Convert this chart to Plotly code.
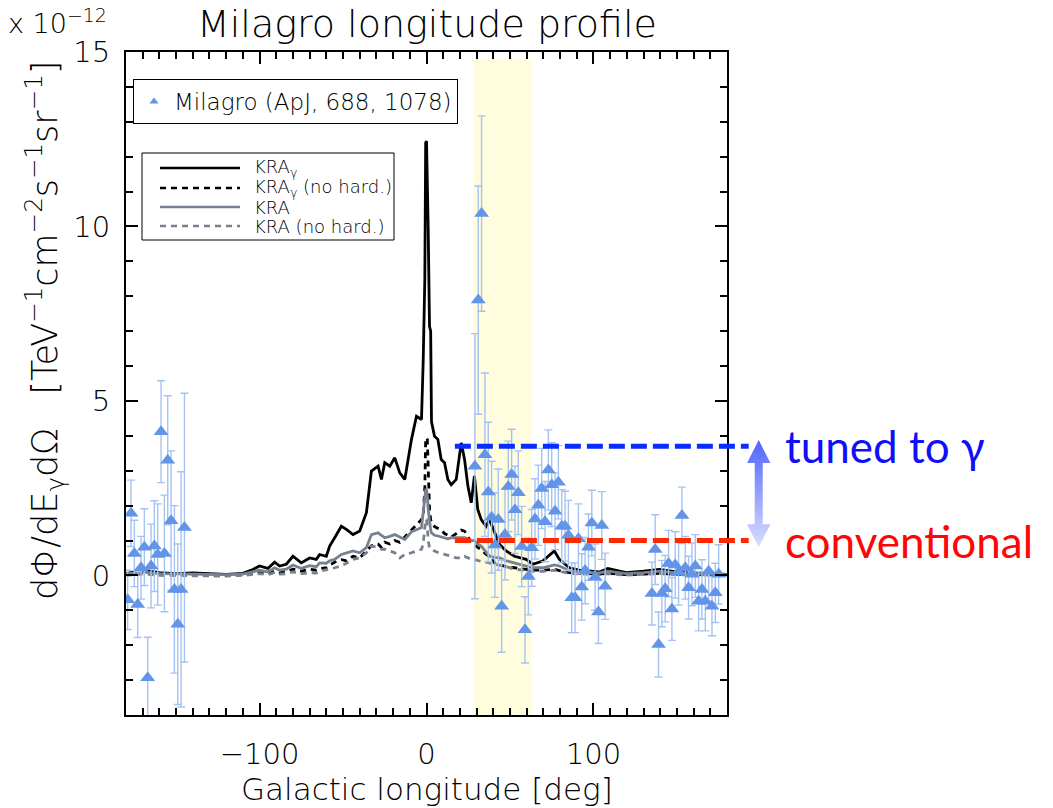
import plotly.graph_objects as go

# ---------------- data ----------------
# model longitude grid [deg]
lon_model = [-180, -170, -160, -150, -140, -130, -120, -110, -104, -100,
             -95, -91, -88, -84, -80, -75, -70, -66, -64, -60,
             -58, -55, -51, -48, -44, -40, -36, -33, -29, -27,
             -25, -22, -19, -16, -13, -9, -6, -3, -2, -1,
             -0.5, 0, 0.5, 1, 1.8, 2.5, 3, 4.8, 6.8, 8.8,
             10.8, 12.8, 14.8, 17.8, 20.8, 22.8, 24.8, 26.8, 28.7, 30.7,
             32.8, 35.7, 37.7, 40.7, 43.7, 47.7, 52.7, 59.7, 63.7, 69.6,
             76.6, 79.6, 85.6, 91.6, 103.6, 108.6, 119.6, 130, 139.5, 150,
             160, 170, 180]

# model fluxes, units of 1e-12 TeV^-1 cm^-2 s^-1 sr^-1
kra_gamma = [0.05, 0.15, 0.08, 0.05, 0.07, 0.04, 0.03, 0.06, 0.17, 0.27,
             0.20, 0.38, 0.27, 0.32, 0.55, 0.36, 0.50, 0.46, 0.60, 0.55,
             0.84, 1.08, 1.41, 1.32, 1.17, 1.27, 1.80, 2.99, 3.13, 2.75,
             3.23, 3.13, 3.37, 2.94, 2.75, 3.90, 4.56, 4.47, 6.10, 8.50,
             12.40, 12.45, 11.50, 10.00, 7.14, 7.00, 4.40, 3.99, 3.90, 3.32,
             3.23, 2.75, 2.60, 2.75, 3.80, 3.32, 2.56, 2.08, 2.85, 1.89,
             1.60, 1.41, 1.60, 1.22, 0.89, 0.70, 0.55, 0.46, 0.32, 0.41,
             0.70, 0.46, 0.22, 0.15, 0.10, 0.20, 0.08, 0.12, 0.17, 0.10,
             0.06, 0.05, 0.03]

kra_gamma_nohard = [0.02, 0.08, 0.03, 0.02, 0.03, 0.01, 0.00, 0.02, 0.05, 0.08,
                    0.05, 0.12, 0.08, 0.10, 0.18, 0.12, 0.18, 0.15, 0.20, 0.22,
                    0.30, 0.38, 0.45, 0.42, 0.55, 0.50, 0.70, 0.85, 0.90, 0.80,
                    0.95, 0.90, 1.00, 0.95, 1.10, 1.30, 1.46, 1.60, 1.70, 2.50,
                    3.90, 3.95, 3.90, 3.00, 1.90, 1.60, 1.50, 1.40, 1.35, 1.30,
                    1.20, 1.15, 1.10, 1.20, 1.30, 1.27, 1.10, 0.95, 0.90, 0.80,
                    0.74, 0.60, 0.55, 0.36, 0.30, 0.25, 0.22, 0.18, 0.15, 0.15,
                    0.18, 0.14, 0.08, 0.06, 0.04, 0.06, 0.02, 0.04, 0.06, 0.03,
                    0.02, 0.02, 0.01]

kra = [0.04, 0.10, 0.05, 0.04, 0.05, 0.03, 0.02, 0.04, 0.10, 0.15,
       0.10, 0.22, 0.15, 0.18, 0.30, 0.20, 0.28, 0.25, 0.36, 0.35,
       0.42, 0.46, 0.60, 0.65, 0.70, 0.65, 0.80, 1.17, 1.22, 1.15,
       1.08, 1.12, 1.17, 1.10, 1.03, 1.25, 1.32, 1.37, 1.80, 2.20,
       2.45, 2.45, 2.30, 1.90, 1.50, 1.30, 1.22, 1.15, 1.13, 1.10,
       1.08, 1.05, 1.08, 1.08, 1.10, 1.08, 1.05, 1.00, 1.00, 0.90,
       0.84, 0.65, 0.55, 0.52, 0.50, 0.42, 0.36, 0.28, 0.22, 0.22,
       0.30, 0.27, 0.14, 0.10, 0.07, 0.12, 0.05, 0.08, 0.12, 0.07,
       0.04, 0.04, 0.02]

kra_nohard = [0.00, 0.04, 0.00, -0.01, 0.00, -0.01, -0.02, 0.00, 0.03, 0.05,
              0.02, 0.08, 0.04, 0.05, 0.10, 0.05, 0.08, 0.07, 0.12, 0.15,
              0.18, 0.22, 0.27, 0.35, 0.46, 0.50, 0.65, 0.84, 0.80, 0.75,
              0.75, 0.70, 0.65, 0.50, 0.60, 0.65, 0.70, 0.75, 0.90, 1.30,
              1.60, 1.60, 1.40, 1.00, 0.80, 0.75, 0.75, 0.70, 0.65, 0.62,
              0.60, 0.58, 0.55, 0.50, 0.50, 0.55, 0.50, 0.48, 0.45, 0.42,
              0.40, 0.38, 0.36, 0.33, 0.30, 0.25, 0.18, 0.15, 0.12, 0.12,
              0.15, 0.12, 0.06, 0.04, 0.03, 0.05, 0.01, 0.03, 0.05, 0.02,
              0.01, 0.01, 0.00]

# Milagro measurements (ApJ 688, 1078)
lon_mil = [-179, -177, -175, -173, -171, -169, -167, -165, -163, -161,
           -159, -157, -155, -153, -151, -149, -147, -145,
           29, 31, 33, 35, 37, 39, 41, 43, 45, 47,
           49, 51, 53, 55, 57, 59, 61, 63, 65, 67,
           69, 71, 73, 75, 77, 79, 81, 83, 85, 87,
           89, 91, 93, 95, 97, 99, 101, 103, 105, 107,
           135, 137, 139, 141, 143, 145, 147, 149, 151, 153,
           155, 157, 159, 161, 163, 165, 167, 169, 171, 173, 175]
flux_mil = [-0.70, 1.78, 0.63, -0.83, 0.22, 0.81, -2.93, 0.27, 0.84, 0.60,
            4.12, 0.63, 3.30, 1.57, -0.40, -1.40, -0.40, 1.37,
            3.13, 7.89, 10.37, 3.46, 2.39, 1.67, 0.87, 1.60, -0.88, 1.17,
            2.55, 2.89, 1.88, 2.37, 0.83, -1.56, -0.03, 0.79, 1.62, 2.01,
            2.49, 1.54, 3.02, 2.60, 1.84, 2.67, 1.41, 1.41, 1.15, -0.64,
            -0.64, 1.05, -0.33, 0.14, 0.81, 1.50, -0.05, -1.05, 1.43, -0.31,
            -0.52, 0.74, -1.98, -0.52, -0.38, 0.34, -0.96, 0.30, 0.10, 1.72,
            0.22, -0.35, 0.03, 0.27, -0.74, -0.40, -0.74, 0.12, -0.88, -0.50, 0.03]
err_mil = [0.85, 0.95, 0.95, 0.95, 0.90, 1.10, 1.16, 1.20, 1.30, 1.45,
           1.46, 1.67, 1.85, 2.00, 2.40, 2.30, 3.37, 3.85,
           3.80, 3.27, 2.80, 2.34, 2.00, 1.60, 1.50, 1.45, 1.32, 1.30,
           1.30, 1.30, 1.25, 1.20, 1.15, 0.95, 1.10, 1.10, 1.15, 1.15,
           1.15, 1.15, 1.15, 1.20, 1.10, 1.05, 1.05, 1.00, 1.00, 1.00,
           1.00, 1.00, 0.95, 0.95, 0.95, 0.94, 0.95, 0.90, 0.97, 0.95,
           0.90, 1.00, 0.93, 0.95, 0.95, 0.95, 0.90, 0.95, 0.95, 0.81,
           0.90, 0.90, 0.90, 0.90, 0.85, 0.85, 0.85, 0.85, 0.85, 0.85, 0.85]

# Cygnus region shading [deg]
band_lon = [28, 63]
# reference flux levels
level_tuned = 3.7
level_conv = 1.0
level_start = 17  # longitude where the level markers begin

# ---------------- geometry / style ----------------
W, H = 1053, 808
BOX_L, BOX_R, BOX_T, BOX_B = 126, 727, 52, 715
X_RANGE = [-180, 180]
Y_RANGE = [-4, 15]
deg_per_px = (X_RANGE[1] - X_RANGE[0]) / (BOX_R - BOX_L)
x_ext_max = X_RANGE[0] + (W - BOX_L) * deg_per_px

FONT = "DejaVu Sans"
THIN = 200
MIL_BLUE = "rgb(98,148,232)"
ERR_BLUE = "rgb(165,195,242)"
KRA_GRAY = "rgb(118,128,142)"
DASH = "6px,5px"

xdom = [BOX_L / W, BOX_R / W]
ydom = [1 - BOX_B / H, 1 - BOX_T / H]

model_styles = [
    (kra_gamma, "KRA<sub>γ</sub>", "black", "solid"),
    (kra_gamma_nohard, "KRA<sub>γ</sub> (no hard.)", "black", DASH),
    (kra, "KRA", KRA_GRAY, "solid"),
    (kra_nohard, "KRA (no hard.)", KRA_GRAY, DASH),
]

fig = go.Figure()

# model curves
for yv, name, color, dash in model_styles:
    fig.add_trace(go.Scatter(
        x=lon_model, y=yv, mode="lines", name=name, showlegend=False,
        line=dict(color=color, width=2.8, dash=dash), xaxis="x", yaxis="y"))

# Milagro points
fig.add_trace(go.Scatter(
    x=lon_mil, y=flux_mil, mode="markers", showlegend=False,
    marker=dict(symbol="triangle-up", size=13, color=MIL_BLUE, line=dict(width=0)),
    error_y=dict(type="data", array=err_mil, color=ERR_BLUE, thickness=1.4, width=4),
    xaxis="x", yaxis="y"))
fig.add_trace(go.Scatter(
    x=[None], y=[None], mode="markers", name="Milagro (ApJ, 688, 1078)",
    marker=dict(symbol="triangle-up", size=8, color=MIL_BLUE),
    xaxis="x", yaxis="y"))

# empty traces that carry the minor-tick axes
fig.add_trace(go.Scatter(x=[None], y=[None], showlegend=False, xaxis="x3", yaxis="y"))
fig.add_trace(go.Scatter(x=[None], y=[None], showlegend=False, xaxis="x", yaxis="y3"))

# level markers and double arrow on an extended longitude axis
arrow_x = 199
head_w, shaft_w, head_len = 7.0, 2.4, 0.66
tip_top = level_tuned + 0.18
tip_bot = level_conv - 0.19
fig.add_trace(go.Scatter(
    x=[level_start, 193], y=[level_tuned, level_tuned], mode="lines",
    line=dict(color="rgb(10,45,255)", width=5, dash="16px,6px"),
    showlegend=False, xaxis="x2", yaxis="y2"))
fig.add_trace(go.Scatter(
    x=[level_start, 193], y=[level_conv, level_conv], mode="lines",
    line=dict(color="rgb(255,40,0)", width=5, dash="16px,6px"),
    showlegend=False, xaxis="x2", yaxis="y2"))
ax = [arrow_x, arrow_x + head_w, arrow_x + shaft_w, arrow_x + shaft_w, arrow_x + head_w,
      arrow_x, arrow_x - head_w, arrow_x - shaft_w, arrow_x - shaft_w, arrow_x - head_w, arrow_x]
ay = [tip_top, tip_top - head_len, tip_top - head_len, tip_bot + head_len, tip_bot + head_len,
      tip_bot, tip_bot + head_len, tip_bot + head_len, tip_top - head_len, tip_top - head_len, tip_top]
fig.add_trace(go.Scatter(
    x=ax, y=ay, mode="lines", fill="toself", line=dict(width=0),
    fillgradient=dict(type="vertical", start=tip_bot, stop=tip_top,
                      colorscale=[[0, "rgb(218,222,255)"], [1, "rgb(80,100,250)"]]),
    showlegend=False, xaxis="x2", yaxis="y2"))

axis_common = dict(
    showline=True, linewidth=2, linecolor="black", mirror="ticks",
    ticks="inside", ticklen=12, tickwidth=1.6, tickcolor="black",
    showgrid=False, zeroline=False, automargin=False,
    tickfont=dict(family=FONT, size=29, color="black", weight=THIN),
)
minor_ticks = dict(ticks="inside", ticklen=7, tickwidth=1.6, tickcolor="black", showgrid=False)
minor_axis = dict(
    showline=True, linewidth=2, linecolor="black", mirror="ticks",
    ticks="inside", ticklen=7, tickwidth=1.6, tickcolor="black",
    showgrid=False, zeroline=False, automargin=False, showticklabels=False,
)

# boxed key for the model curves (drawn in paper units)
key_box = dict(x0=142, x1=394, y0=153, y1=240)
key_rows = [168, 188, 207, 226]
key_line = (160, 240)
key_text_x = 252

shapes = [dict(type="rect", xref="x", yref="y", x0=band_lon[0], x1=band_lon[1],
               y0=Y_RANGE[0], y1=14.8, fillcolor="rgb(255,253,222)",
               line=dict(width=0), layer="below"),
          dict(type="rect", xref="paper", yref="paper",
               x0=key_box["x0"] / W, x1=key_box["x1"] / W,
               y0=1 - key_box["y1"] / H, y1=1 - key_box["y0"] / H,
               fillcolor="white", line=dict(color="black", width=1), layer="above")]
annotations = []
for (yv, name, color, dash), row in zip(model_styles, key_rows):
    shapes.append(dict(type="line", xref="paper", yref="paper",
                       x0=key_line[0] / W, x1=key_line[1] / W,
                       y0=1 - row / H, y1=1 - row / H,
                       line=dict(color=color, width=2.6, dash=dash), layer="above"))
    annotations.append(dict(text=name, xref="paper", yref="paper",
                            x=key_text_x / W, y=1 - row / H, xanchor="left", yanchor="middle",
                            showarrow=False, font=dict(family=FONT, size=18, weight=THIN)))

annotations += [
    dict(text="Milagro longitude profile", xref="paper", yref="paper",
         x=(BOX_L + BOX_R) / 2 / W, y=1 - 24 / H, xanchor="center", yanchor="middle",
         showarrow=False, font=dict(family=FONT, size=38, weight=THIN)),
    dict(text="x 10<sup>−12</sup>", xref="paper", yref="paper",
         x=109 / W, y=1 - 21 / H, xanchor="right", yanchor="middle",
         showarrow=False, font=dict(family=FONT, size=27, weight=THIN)),
    dict(text="dΦ/dE<sub>γ</sub>dΩ   [TeV<sup>−1</sup>cm<sup>−2</sup>s<sup>−1</sup>sr<sup>−1</sup>]",
         xref="paper", yref="paper", x=45 / W, y=1 - 330 / H, textangle=-90,
         xanchor="center", yanchor="middle", showarrow=False,
         font=dict(family=FONT, size=35, weight=THIN)),
    dict(text="Galactic longitude [deg]", xref="paper", yref="paper",
         x=(BOX_L + BOX_R) / 2 / W, y=1 - 789 / H, xanchor="center", yanchor="middle",
         showarrow=False, font=dict(family=FONT, size=31, weight=THIN)),
    dict(text="tuned to γ", xref="x2", yref="y2", x=213.5, y=level_tuned,
         xanchor="left", yanchor="middle", showarrow=False,
         font=dict(family="Lato", size=44, color="rgb(15,15,250)", weight=400)),
    dict(text="conventional", xref="x2", yref="y2", x=213.5, y=level_conv,
         xanchor="left", yanchor="middle", showarrow=False,
         font=dict(family="Lato", size=44, color="rgb(255,5,5)", weight=400)),
]

fig.update_layout(
    width=W, height=H, autosize=False,
    margin=dict(l=0, r=0, t=0, b=0, pad=0),
    paper_bgcolor="white", plot_bgcolor="rgba(0,0,0,0)",
    font=dict(family=FONT, color="black", weight=THIN),
    xaxis=dict(domain=xdom, range=X_RANGE, tick0=0, dtick=100,
               minor=dict(dtick=10, tick0=0, **minor_ticks),
               ticklabelstandoff=12, anchor="y", **axis_common),
    yaxis=dict(domain=ydom, range=Y_RANGE, tick0=0, dtick=5,
               minor=dict(dtick=1, tick0=0, **minor_ticks),
               ticklabelstandoff=8, anchor="x", **axis_common),
    xaxis3=dict(overlaying="x", anchor="y", range=X_RANGE, tickmode="linear",
                tick0=0, dtick=10, **minor_axis),
    yaxis3=dict(overlaying="y", anchor="x", range=Y_RANGE, tickmode="linear",
                tick0=0, dtick=1, **minor_axis),
    xaxis2=dict(domain=[BOX_L / W, 1.0], range=[X_RANGE[0], x_ext_max], visible=False,
                anchor="y2", fixedrange=True, automargin=False),
    yaxis2=dict(domain=ydom, range=Y_RANGE, visible=False, anchor="x2",
                fixedrange=True, automargin=False),
    legend=dict(x=133 / W, y=1 - 79 / H, xanchor="left", yanchor="top",
                bgcolor="white", bordercolor="black", borderwidth=1,
                font=dict(family=FONT, size=23, color="black", weight=THIN), itemwidth=30),
    shapes=shapes,
    annotations=annotations,
)

fig.write_html("out.html")
